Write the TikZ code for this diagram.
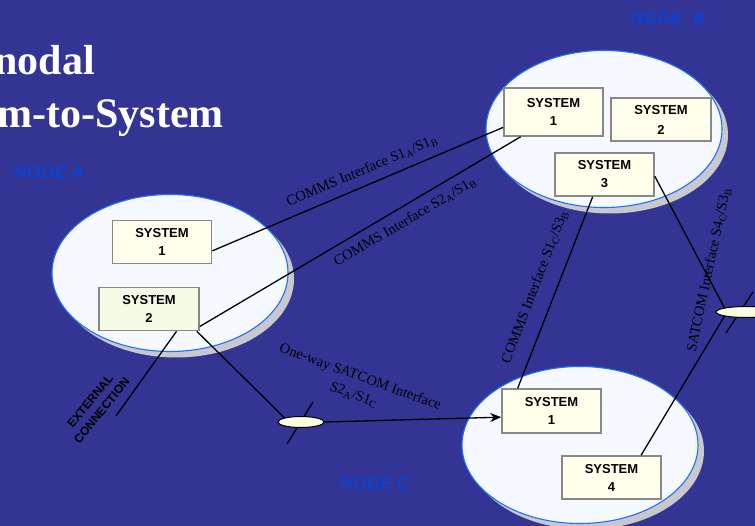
\documentclass[tikz,border=0pt]{standalone}
\usepackage{fontspec}
\setmainfont{Liberation Serif}
\setsansfont{Liberation Sans}
\usetikzlibrary{arrows.meta,shapes.geometric,calc}
\definecolor{bg}{RGB}{52,52,148}
\definecolor{nodeblue}{RGB}{14,66,206}
\definecolor{rim}{RGB}{30,110,255}
\definecolor{cloud}{RGB}{246,249,255}
\definecolor{shade}{RGB}{200,200,205}
\definecolor{ivory}{RGB}{255,255,236}
\definecolor{mint}{RGB}{246,251,230}
\definecolor{frame}{RGB}{136,136,136}
\definecolor{disc}{RGB}{250,255,225}
\begin{document}
\begin{tikzpicture}[x=1pt,y=-1pt,>={Stealth[length=11pt,width=9pt]},
site/.style={ellipse,draw=rim,line width=1.1pt,fill=cloud,minimum width=236pt,minimum height=157pt,inner sep=0pt},
siteshade/.style={ellipse,fill=shade,minimum width=236pt,minimum height=157pt,inner sep=0pt},
sys/.style={draw=frame,line width=1.6pt,fill=ivory,minimum width=99pt,minimum height=43pt,inner sep=0pt,align=center,font=\sffamily\bfseries\fontsize{13}{18}\selectfont},
dish/.style={ellipse,draw,fill=disc,line width=1pt,minimum width=46pt,minimum height=11pt,inner sep=0pt},
tag/.style={font=\sffamily\bfseries\itshape\fontsize{18}{20}\selectfont,text=nodeblue},
link/.style={line width=1.3pt},
lbl/.style={font=\fontsize{14.5}{19}\selectfont,inner sep=0pt}]
\clip (0,0) rectangle (755,526);
\fill[bg] (0,0) rectangle (755,526);
% title
\node[anchor=base east,inner sep=0pt,text=white,font=\bfseries\fontsize{42}{50}\selectfont] (ttl1) at (95,75) {nodal};
\node[anchor=base east,inner sep=0pt,text=white,font=\bfseries\fontsize{42}{50}\selectfont] (ttl2) at (224,128) {m-to-System};
\node[tag] (taga) at (49,172) {NODE A};
\node[tag] (tagb) at (668,18) {NODE\ \ B};
\node[tag] (tagc) at (375,483) {NODE C};
% sites
\node[siteshade] at (176,279) {};
\node[site] (na) at (170,273) {};
\node[siteshade] at (610,135) {};
\node[site] (nb) at (604,129) {};
\node[siteshade] at (586,451) {};
\node[site] (nc) at (580,445) {};
% systems
\node[sys] (a1) at (162,242) {SYSTEM\\1};
\node[sys,fill=mint,minimum width=100pt] (a2) at (149,309) {SYSTEM\\2};
\node[sys,minimum height=48pt] (b1) at (553.5,112) {SYSTEM\\1};
\node[sys,minimum width=100pt,font=\sffamily\bfseries\fontsize{13}{20}\selectfont] (b2) at (661,119.5) {SYSTEM\\2};
\node[sys] (b3) at (604.5,174.5) {SYSTEM\\3};
\node[sys,minimum height=44pt] (c1) at (551.5,411) {SYSTEM\\1};
\node[sys] (c4) at (611.5,477.5) {SYSTEM\\4};
% satcom dishes
\coordinate (sa) at (301,422);
\coordinate (sb) at (746,312);
\draw[link] ($(sa)+(12,-20)$) -- ($(sa)+(-14,22)$);
\draw[link] ($(sb)+(7,-20)$) -- ($(sb)+(-20,21)$);
\node[dish] (da) at (sa) {};
\node[dish,minimum width=60pt] (db) at (sb) {};
% links
\coordinate (ext) at (116,416);
\draw[link] (a1.-10) -- (b1.197);
\draw[link] (a2.-19) -- (b1.217);
\draw[link] (a2.-39) -- (ext);
\draw[link] (a2.-25) -- (da.north west);
\draw[link,->] (da.east) -- (c1.187);
\draw[link] (b3.-118) -- (c1.146);
\draw[link] (b3.-2) -- (db.north west);
\draw[link] (db.south west) -- (c4.37);
% labels
\node[lbl,rotate=23] (l1) at (362,171) {COMMS Interface S1\textsubscript{A}/S1\textsubscript{B}};
\node[lbl,rotate=30.5] (l2) at (405,222) {COMMS Interface S2\textsubscript{A}/S1\textsubscript{B}};
\node[lbl,rotate=69] (l3) at (535,287) {COMMS Interface S1\textsubscript{C}/S3\textsubscript{B}};
\node[lbl,rotate=78] (l4) at (709,270) {SATCOM Interface S4\textsubscript{C}/S3\textsubscript{B}};
\node[lbl,rotate=-20,align=center] (l5) at (357,386) {One-way SATCOM Interface\\S2\textsubscript{A}/S1\textsubscript{C}};
\node[font=\sffamily\bfseries\fontsize{12}{15}\selectfont,rotate=51,align=center,inner sep=0pt] (extl) at (96,406) {EXTERNAL\\CONNECTION};
\end{tikzpicture}
\end{document}
